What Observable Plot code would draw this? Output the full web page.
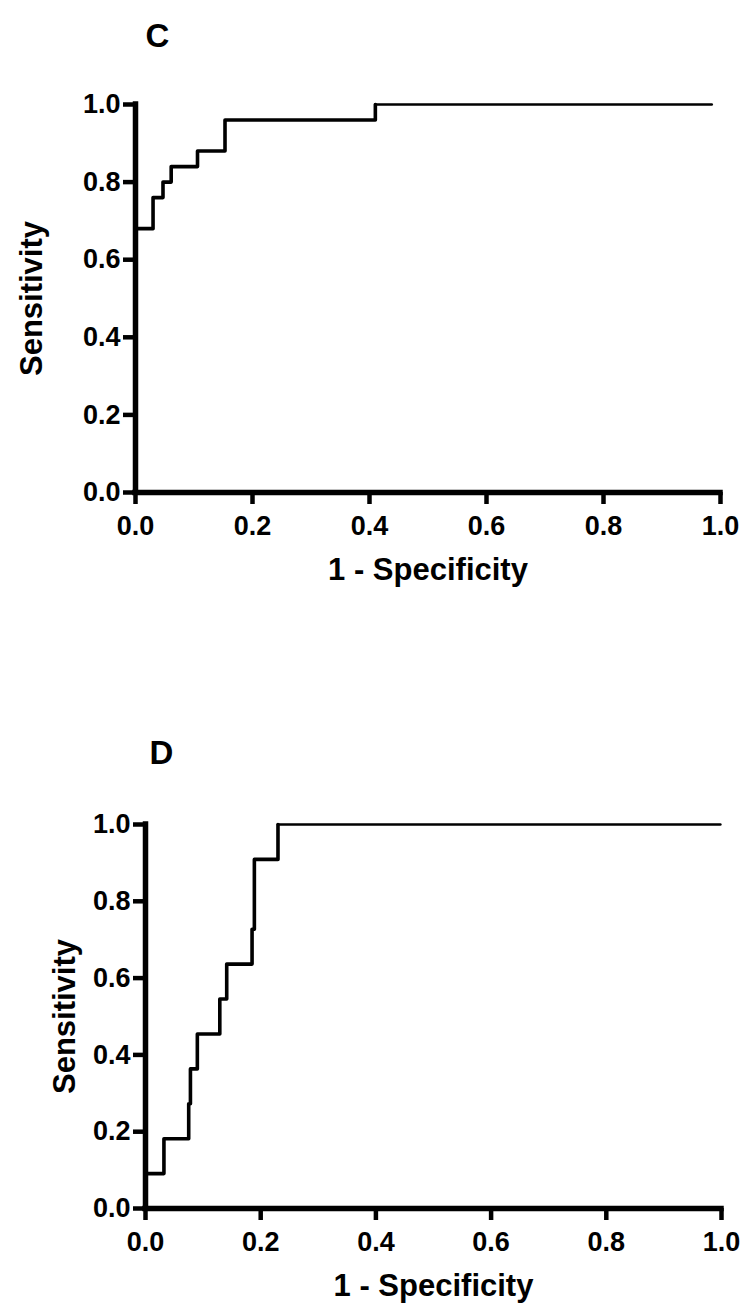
<!DOCTYPE html>
<html>
<head>
<meta charset="utf-8">
<script src="https://cdn.jsdelivr.net/npm/d3@7"></script>
<script src="https://cdn.jsdelivr.net/npm/@observablehq/plot@0.6"></script>
<style>
  html, body { margin: 0; padding: 0; background: white; }
  #chart { width: 754px; height: 1314px; position: relative; }
  #chart svg { display: block; }
</style>
</head>
<body>
<div id="chart"></div>
<script>
// Panel C ROC curve (1 - specificity, sensitivity)
const panelCLabel = "C";
const panelCFpr = [0, 0, 0.030, 0.047, 0.061, 0.106, 0.153, 0.410, 0.985];
const panelCTpr = [0, 0.68, 0.76, 0.80, 0.84, 0.88, 0.96, 1.00, 1.00];

// Panel D ROC curve
const panelDLabel = "D";
const panelDFpr = [0, 0, 0.032, 0.075, 0.078, 0.090, 0.129, 0.141, 0.185, 0.189, 0.230, 0.998];
const panelDTpr = [0, 0.0909, 0.1818, 0.2727, 0.3636, 0.4545, 0.5455, 0.6364, 0.7273, 0.9091, 1.00, 1.00];

const tickValues = [0, 0.2, 0.4, 0.6, 0.8, 1.0];
const tickLabels = ["0.0", "0.2", "0.4", "0.6", "0.8", "1.0"];
const xTitle = "1 - Specificity";
const yTitle = "Sensitivity";

const FONT = "'Liberation Sans', Arial, Helvetica, sans-serif";

function panel({label, fpr, tpr, height, mt, mb, ml, mr, ytDx, letterDx, letterDy}) {
  const pts = fpr.map((x, i) => ({x, y: tpr[i]}));
  const steps = pts.slice(0, -1);
  const tail = pts.slice(-2);
  const ticks = tickValues.map((v, i) => ({v, t: tickLabels[i]}));
  return Plot.plot({
    width: 754,
    height,
    marginTop: mt,
    marginBottom: mb,
    marginLeft: ml,
    marginRight: mr,
    x: {domain: [0, 1]},
    y: {domain: [0, 1]},
    style: {fontFamily: FONT, fontWeight: "bold", color: "black", background: "white", overflow: "visible"},
    marks: [
      Plot.axisX({ticks: tickValues, tickFormat: () => "", tickSize: 12, strokeWidth: 4.5, label: null}),
      Plot.axisY({ticks: tickValues, tickFormat: () => "", tickSize: 12, strokeWidth: 4.5, label: null}),
      Plot.text(ticks, {x: "v", text: "t", frameAnchor: "bottom", dy: 23, lineAnchor: "top", textAnchor: "middle", fontSize: 27, fontWeight: "bold", fill: "black"}),
      Plot.text(ticks, {y: "v", text: "t", frameAnchor: "left", dx: -15, lineAnchor: "middle", textAnchor: "end", fontSize: 27, fontWeight: "bold", fill: "black"}),
      Plot.ruleX([0], {stroke: "black", strokeWidth: 5.5, strokeLinecap: "square"}),
      Plot.ruleY([0], {stroke: "black", strokeWidth: 5.5, strokeLinecap: "square"}),
      Plot.line(steps, {x: "x", y: "y", curve: "step-after", stroke: "black", strokeWidth: 3.6}),
      Plot.line(tail, {x: "x", y: "y", stroke: "black", strokeWidth: 2.6}),
      Plot.text([xTitle], {frameAnchor: "bottom", dy: 78, fontSize: 31, fontWeight: "bold", lineAnchor: "middle", textAnchor: "middle", fill: "black"}),
      Plot.text([yTitle], {frameAnchor: "left", dx: ytDx, rotate: -90, fontSize: 31, fontWeight: "bold", lineAnchor: "middle", textAnchor: "middle", fill: "black"}),
      Plot.text([label], {frameAnchor: "top-left", dx: letterDx, dy: letterDy, fontSize: 33, fontWeight: "bold", lineAnchor: "middle", textAnchor: "start", fill: "black"})
    ]
  });
}

const chart = document.getElementById("chart");
chart.append(panel({
  label: panelCLabel, fpr: panelCFpr, tpr: panelCTpr,
  height: 640, mt: 104, mb: 148, ml: 135, mr: 34,
  ytDx: -103, letterDx: 10, letterDy: -68.5
}));
chart.append(panel({
  label: panelDLabel, fpr: panelDFpr, tpr: panelDTpr,
  height: 674, mt: 184, mb: 106, ml: 145, mr: 33,
  ytDx: -80, letterDx: 4, letterDy: -71.5
}));
</script>
</body>
</html>
